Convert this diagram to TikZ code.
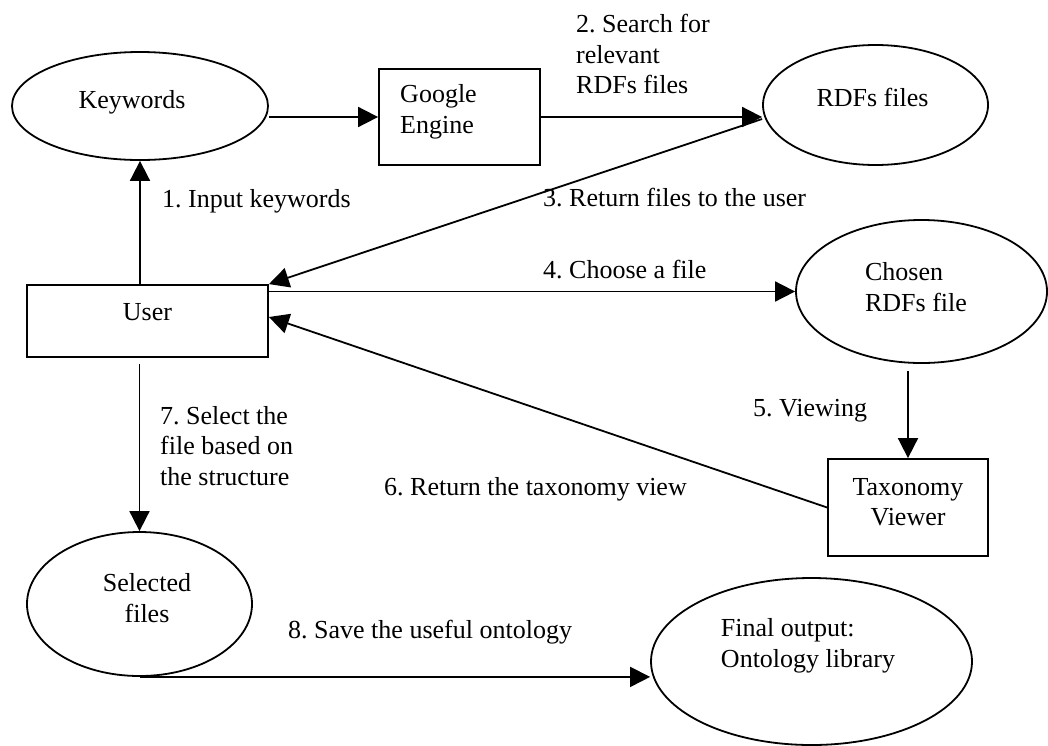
\documentclass[tikz,border=0pt]{standalone}
\usepackage{fontspec}
\setmainfont{Liberation Serif}
\usetikzlibrary{arrows.meta,shapes.geometric}
\frenchspacing
\begin{document}
\begin{tikzpicture}[x=1pt,y=-1pt,
  every node/.style={font=\fontsize{26}{30.5}\selectfont},
  txt/.style={inner sep=0pt, align=left},
  ellip/.style={ellipse, draw, line width=1.8pt, inner sep=0pt},
  boxnode/.style={rectangle, draw, line width=1.8pt, inner sep=0pt},
  lbl/.style={inner sep=0pt, align=left},
  conn/.style={line width=1.8pt, -{Triangle[length=20pt,width=20pt]}}
]
\useasboundingbox (0,0) rectangle (1048,745);

% shapes
\node[ellip, minimum width=256pt, minimum height=108pt,
  label={[txt, xshift=-8pt, yshift=4pt]center:Keywords}] (kw) at (140,106) {};
\node[boxnode, minimum width=161pt, minimum height=96pt,
  label={[txt, xshift=-21pt, yshift=5pt]center:Google\\Engine}] (ge) at (459.5,117) {};
\node[ellip, minimum width=225pt, minimum height=120pt,
  label={[txt, xshift=-3pt, yshift=8pt]center:RDFs files}] (rdf) at (875.5,105) {};
\node[boxnode, minimum width=241pt, minimum height=72pt,
  label={[txt, xshift=0pt, yshift=9pt]center:User}] (user) at (147.5,321) {};
\node[ellip, minimum width=251pt, minimum height=143pt,
  label={[txt, xshift=-5.5pt, yshift=4.5pt]center:Chosen\\RDFs file}] (ch) at (921.5,291.5) {};
\node[boxnode, minimum width=160pt, minimum height=97pt,
  label={[txt, align=center, yshift=5.5pt]center:Taxonomy\\Viewer}] (tv) at (908,507.5) {};
\node[ellip, minimum width=225pt, minimum height=144pt,
  label={[txt, align=center, xshift=7.5pt, yshift=6pt]center:Selected\\files}] (sel) at (139.5,604) {};
\node[ellip, minimum width=321pt, minimum height=167pt,
  label={[txt, xshift=-3.5pt, yshift=15.5pt]center:Final output:\\Ontology library}] (fin) at (811.5,661.5) {};

% connector labels
\node[lbl, anchor=base west] (l1) at (162,207) {1. Input keywords};
\node[lbl, anchor=west] (l2) at (576,54) {2. Search for\\relevant\\RDFs files};
\node[lbl, anchor=base west] (l3) at (543,206) {3. Return files to the user};
\node[lbl, anchor=base west] (l4) at (543,278) {4. Choose a file};
\node[lbl, anchor=base west] (l5) at (753,416) {5. Viewing};
\node[lbl, anchor=base west] (l6) at (384,495) {6. Return the taxonomy view};
\node[lbl, anchor=west] (l7) at (160,446) {7. Select the\\file based on\\the structure};
\node[lbl, anchor=base west] (l8) at (288,638) {8. Save the useful ontology};

% connectors
\draw[conn] (kw.south |- user.north) -- (kw.south);
\draw[conn] (kw.east |- ge.west) -- (ge.west);
\draw[conn] (ge.east) -- (ge.east -| rdf.west);
\draw[conn] ([yshift=-14pt]rdf.west) -- (user.north east);
\draw[conn] (user.east |- ch.west) -- (ch.west);
\draw[conn] ([yshift=-7pt]ch.south -| tv.north) -- (tv.north);
\draw[conn] (tv.west) -- ([yshift=4pt]user.east);
\draw[conn] ([yshift=-6pt]user.south -| sel.north) -- (sel.north);
\draw[conn] (sel.south) -- (sel.south -| fin.west);
\end{tikzpicture}
\end{document}
